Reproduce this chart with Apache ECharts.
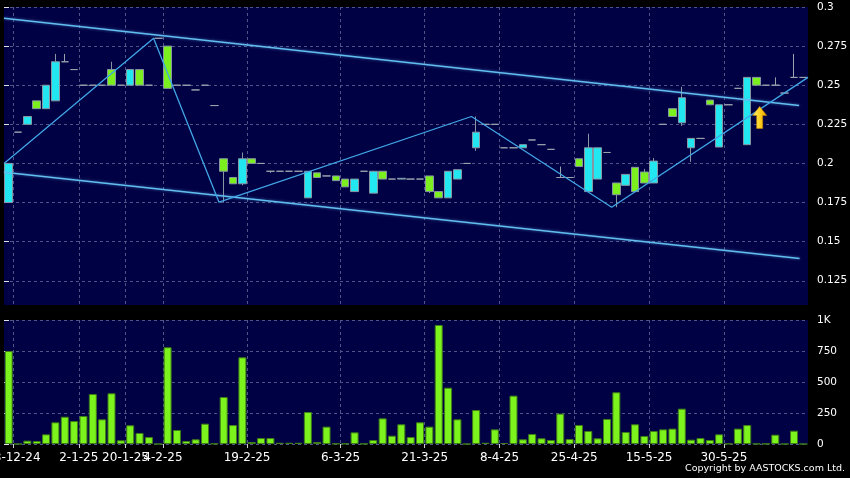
<!DOCTYPE html>
<html>
<head>
<meta charset="utf-8">
<script src="https://cdn.jsdelivr.net/npm/echarts@6/dist/echarts.min.js"></script>
<style>
html,body{margin:0;padding:0;background:#000;}
#c{width:850px;height:478px;}
</style>
</head>
<body>
<div id="c"></div>
<script>
// ---- data ----
const opens = [0.175,0.22,0.225,0.24,0.235,0.24,0.265,0.26,0.25,0.25,
0.25,0.26,0.25,0.25,0.26,0.25,0.28,0.275,0.25,0.25,
0.247,0.25,0.237,0.203,0.191,0.187,0.203,0.2,0.195,0.195,
0.195,0.195,0.178,0.194,0.192,0.192,0.19,0.182,0.195,0.181,
0.195,0.19,0.19,0.19,0.19,0.192,0.182,0.178,0.19,0.2,
0.21,0.225,0.225,0.21,0.21,0.21,0.215,0.212,0.209,0.191,
0.191,0.203,0.182,0.19,0.207,0.1875,0.186,0.1975,0.1945,0.1875,
0.225,0.235,0.226,0.21,0.216,0.2405,0.2105,0.2375,0.248,0.212,
0.255,0.25,0.25,0.245,0.255,0.255];
const closes = [0.2,0.22,0.23,0.235,0.25,0.265,0.265,0.26,0.25,0.25,
0.25,0.25,0.25,0.26,0.25,0.25,0.28,0.248,0.25,0.25,
0.247,0.25,0.237,0.195,0.187,0.203,0.2,0.2,0.195,0.195,
0.195,0.195,0.195,0.191,0.192,0.189,0.185,0.19,0.195,0.195,
0.19,0.19,0.1905,0.19,0.19,0.182,0.178,0.195,0.196,0.2,
0.22,0.225,0.225,0.21,0.21,0.212,0.215,0.212,0.209,0.191,
0.191,0.198,0.21,0.21,0.207,0.18,0.193,0.182,0.1875,0.2015,
0.225,0.23,0.242,0.216,0.216,0.2375,0.2375,0.2375,0.248,0.255,
0.25,0.25,0.25,0.245,0.255,0.255];
const lows = [0.175,0.22,0.225,0.235,0.235,0.24,0.265,0.26,0.25,0.25,
0.25,0.25,0.25,0.25,0.25,0.25,0.28,0.248,0.25,0.25,
0.247,0.25,0.237,0.175,0.187,0.186,0.2,0.2,0.194,0.195,
0.195,0.195,0.178,0.191,0.192,0.189,0.185,0.182,0.195,0.181,
0.19,0.19,0.19,0.19,0.19,0.181,0.178,0.178,0.19,0.2,
0.208,0.225,0.225,0.21,0.21,0.21,0.215,0.212,0.209,0.191,
0.191,0.198,0.182,0.19,0.207,0.172,0.186,0.182,0.1875,0.1875,
0.225,0.23,0.224,0.201,0.216,0.2375,0.2105,0.2375,0.248,0.212,
0.25,0.25,0.25,0.245,0.255,0.255];
const highs = [0.2,0.22,0.23,0.24,0.25,0.27,0.27,0.26,0.25,0.25,
0.25,0.265,0.25,0.26,0.26,0.25,0.28,0.275,0.25,0.25,
0.247,0.25,0.237,0.203,0.191,0.207,0.203,0.2,0.195,0.195,
0.195,0.195,0.195,0.194,0.192,0.192,0.19,0.19,0.195,0.195,
0.195,0.19,0.1905,0.19,0.19,0.192,0.182,0.195,0.196,0.2,
0.23,0.225,0.225,0.21,0.21,0.212,0.215,0.212,0.209,0.198,
0.191,0.203,0.219,0.21,0.207,0.1875,0.193,0.1975,0.1965,0.2035,
0.225,0.235,0.249,0.216,0.216,0.2405,0.2375,0.2375,0.248,0.255,
0.255,0.25,0.255,0.245,0.27,0.255];
const volumes = [750,0,27,24,78,175,220,185,226,403,
199,409,30,151,89,56,0,780,113,24,
38,164,3,379,153,699,16,48,48,10,
10,10,258,16,140,3,3,94,2,32,
207,67,159,56,175,140,960,454,199,0,
274,10,118,8,390,38,81,46,32,245,
40,153,105,46,202,417,97,159,65,105,
118,124,285,35,48,32,78,3,124,153,
2,2,75,0,107,0];

const dateTickIndex = [1,8,13,17,26,36,45,53,61,69,77];
const dateTickLabels = ['18-12-24','2-1-25','20-1-25','4-2-25','19-2-25','6-3-25','21-3-25','8-4-25','25-4-25','15-5-25','30-5-25'];
const priceTicks = [0.125,0.15,0.175,0.2,0.225,0.25,0.275,0.3];
const priceTickLabels = ['0.125','0.15','0.175','0.2','0.225','0.25','0.275','0.3'];
const volTicks = [0,250,500,750,1000];
const volTickLabels = ['0','250','500','750','1K'];

// trend channel and zigzag (x = session index at candle left edge, y = price)
const upperChannel = [[0,0.2928],[85.05,0.237]];
const lowerChannel = [[0,0.1944],[85.1,0.1393]];
const zigzag = [[0,0.2],[16,0.28],[23,0.1752],[50,0.23],[65,0.172],[86,0.255]];
const signalArrow = [[80.83,0.2294]];

const N = opens.length;
const categories = opens.map((_, i) => String(i));
const candleData = opens.map((o, i) => [o, closes[i], lows[i], highs[i]]);

const gridLine = {show:true, lineStyle:{color:'#4f5687', type:[3,3], width:1}};
const dateLabel = {};
dateTickIndex.forEach((v,i)=>{dateLabel[v]=dateTickLabels[i];});
const priceLabel = {};
priceTicks.forEach((v,i)=>{priceLabel[v.toFixed(3)]=priceTickLabels[i];});
const volLabel = {};
volTicks.forEach((v,i)=>{volLabel[v]=volTickLabels[i];});

const chart = echarts.init(document.getElementById('c'), null, {renderer:'canvas'});
const FONT = 'DejaVu Sans';
chart.setOption({
  backgroundColor:'#000000',
  animation:false,
  textStyle:{fontFamily:FONT},
  grid:[
    {left:4, right:42, top:7, height:298, show:true, backgroundColor:'#000044', borderWidth:0, outerBoundsMode:'none', containLabel:false},
    {left:4, right:42, top:320, height:124, show:true, backgroundColor:'#000044', borderWidth:0, outerBoundsMode:'none', containLabel:false}
  ],
  xAxis:[
    {type:'category', gridIndex:0, data:categories, boundaryGap:true, show:false},
    {type:'category', gridIndex:1, data:categories, boundaryGap:true, show:false},
    {type:'value', gridIndex:0, min:0, max:N, axisLine:{show:false},
      axisTick:{show:false, customValues:dateTickIndex},
      axisLabel:{show:false, customValues:dateTickIndex},
      splitLine:gridLine},
    {type:'value', gridIndex:1, min:0, max:N, position:'bottom', axisLine:{show:false},
      axisTick:{show:true, customValues:dateTickIndex, length:4, lineStyle:{color:'#cfcfcf'}},
      axisLabel:{customValues:dateTickIndex, color:'#ffffff', fontSize:12, fontFamily:FONT, margin:8,
        formatter:v=>dateLabel[Math.round(v)]||''},
      splitLine:gridLine}
  ],
  yAxis:[
    {type:'value', gridIndex:0, position:'right', min:0.1095, max:0.3, scale:true,
      axisLine:{show:false},
      axisTick:{show:true, customValues:priceTicks, length:5, lineStyle:{color:'#e0e0e0'}},
      axisLabel:{customValues:priceTicks, color:'#ffffff', fontSize:10.5, fontFamily:FONT, margin:9,
        formatter:v=>priceLabel[(+v).toFixed(3)]||''},
      splitLine:gridLine},
    {type:'value', gridIndex:1, position:'right', min:0, max:1000, interval:250,
      axisLine:{show:false},
      axisTick:{show:true, length:5, lineStyle:{color:'#e0e0e0'}},
      axisLabel:{color:'#ffffff', fontSize:10.5, fontFamily:FONT, margin:9,
        formatter:v=>volLabel[v]||''},
      splitLine:gridLine}
  ],
  series:[
    {type:'candlestick', xAxisIndex:0, yAxisIndex:0, data:candleData, barWidth:8, z:2,
      itemStyle:{color:'#22e6f0', color0:'#7cf01e', borderColor:'#8796a3', borderColor0:'#8796a3',
        borderColorDoji:'#9aa2ad', borderWidth:1}},
    {type:'bar', xAxisIndex:1, yAxisIndex:1, data:volumes, barWidth:8,
      itemStyle:{color:'#7cf31c', borderColor:'#3f7d18', borderWidth:1}},
    {type:'line', xAxisIndex:2, yAxisIndex:0, data:upperChannel, showSymbol:false, z:5,
      lineStyle:{color:'#62bdf0', width:1.5, shadowColor:'rgba(98,189,240,0.6)', shadowBlur:3}},
    {type:'line', xAxisIndex:2, yAxisIndex:0, data:lowerChannel, showSymbol:false, z:5,
      lineStyle:{color:'#62bdf0', width:1.5, shadowColor:'rgba(98,189,240,0.6)', shadowBlur:3}},
    {type:'line', xAxisIndex:2, yAxisIndex:0, data:zigzag, showSymbol:false, z:5,
      lineStyle:{color:'#40a6e6', width:1.3}},
    {type:'scatter', xAxisIndex:2, yAxisIndex:0, data:signalArrow, z:6,
      symbol:'path://M7,0 L14,9 L10,9 L10,22 L4,22 L4,9 L0,9 Z', symbolSize:[14,22],
      itemStyle:{opacity:1, color:new echarts.graphic.LinearGradient(0,0,1,0,[{offset:0,color:'#fff480'},{offset:0.5,color:'#ffd21e'},{offset:1,color:'#eea000'}]),
        borderColor:'#c88400', borderWidth:0.6}}
  ],
  graphic:[
    {type:'text', right:5, top:464, style:{text:'Copyright by AASTOCKS.com Ltd.', fill:'#ffffff',
      font:'9.5px "DejaVu Sans"'}}
  ]
});
</script>
</body>
</html>
